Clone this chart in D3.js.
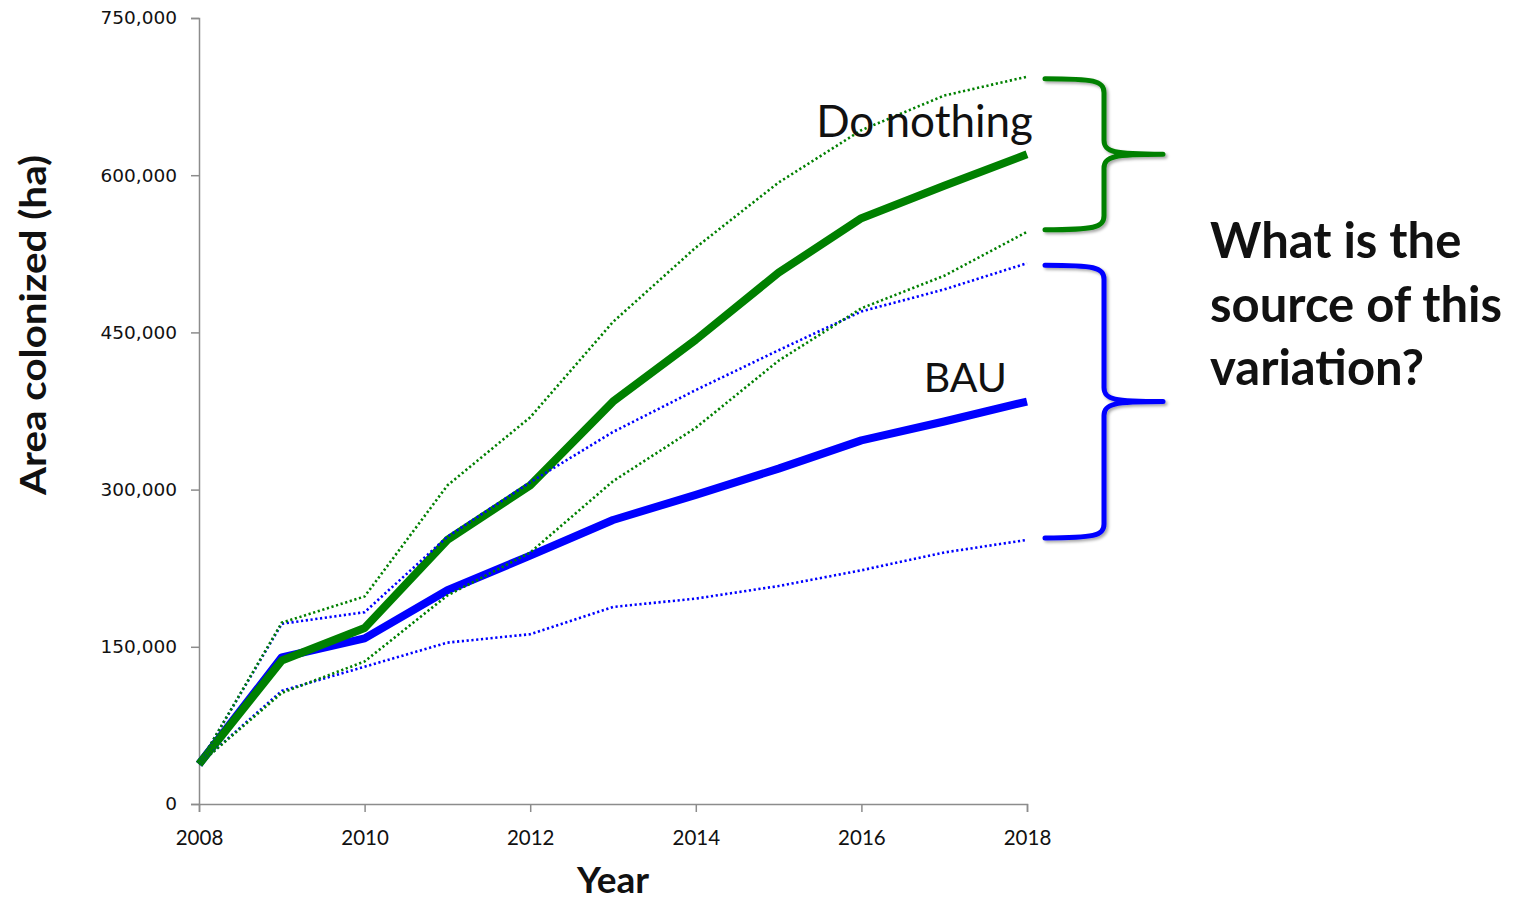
<!DOCTYPE html>
<html><head><meta charset="utf-8">
<script src="https://cdn.jsdelivr.net/npm/d3@7"></script>
<style>body{margin:0;background:#fff}</style></head>
<body><svg id="c" width="1523" height="900"></svg>
<script>
const years = [2008,2009,2010,2011,2012,2013,2014,2015,2016,2017,2018];
const doNothingMean = [38000,137000,168000,252000,304000,384000,443000,507000,559000,590000,620000];
const doNothingHigh = [38000,173000,198000,304000,369000,460000,531000,593000,643000,676000,694000];
const doNothingLow  = [38000,106000,136000,199000,240000,308000,359000,423000,473000,504000,546000];
const bauMean = [38000,140000,158000,204000,237000,271000,295000,320000,347000,365000,384000];
const bauHigh = [38000,172000,183000,255000,307000,355000,395000,433000,470000,491000,516000];
const bauLow  = [38000,108000,131000,154000,162000,188000,196000,208000,223000,240000,252000];
const yTicks = [0,150000,300000,450000,600000,750000];
const xTicks = [2008,2010,2012,2014,2016,2018];
const questionLines = ["What is the","source of this","variation?"];

const svg = d3.select("#c");
const x = d3.scaleLinear().domain([2008,2018]).range([199,1027]);
const y = d3.scaleLinear().domain([0,750000]).range([804,18]);
const axisColor = "#8c8c8c";

const defs = svg.append("defs");
const f = defs.append("filter").attr("id","sh").attr("x","-20%").attr("y","-20%").attr("width","140%").attr("height","140%");
f.append("feDropShadow").attr("dx",2).attr("dy",2).attr("stdDeviation",1.5).attr("flood-color","#000").attr("flood-opacity",0.35);

// axes
const ya = svg.append("g").attr("transform","translate(199,0)")
  .call(d3.axisLeft(y).tickValues(yTicks).tickSize(8).tickPadding(14).tickFormat(d3.format(",")));
ya.select(".domain").attr("stroke",axisColor).attr("stroke-width",1.5);
ya.selectAll(".tick line").attr("stroke",axisColor).attr("stroke-width",1.5);
ya.selectAll(".tick text").attr("fill","#111").attr("font-family","DejaVu Sans, Verdana").attr("font-size",18.5);

const xa = svg.append("g").attr("transform","translate(0,804)")
  .call(d3.axisBottom(x).tickValues(xTicks).tickSize(8).tickPadding(18).tickFormat(d3.format("d")));
xa.select(".domain").attr("stroke",axisColor).attr("stroke-width",1.5);
xa.selectAll(".tick line").attr("stroke",axisColor).attr("stroke-width",1.5);
xa.selectAll(".tick text").attr("fill","#111").attr("font-family","Lato, Open Sans").attr("font-size",20.5);

// lines
const line = vals => d3.line().x((d,i)=>x(years[i])).y(d=>y(d))(vals);
const thick = [[bauMean,"#0000ff"],[doNothingMean,"#008000"]];
const dotted = [[bauHigh,"#0000ff"],[bauLow,"#0000ff"],[doNothingHigh,"#008000"],[doNothingLow,"#008000"]];
svg.selectAll(".thick").data(thick).join("path").attr("class","thick")
  .attr("d",d=>line(d[0])).attr("fill","none").attr("stroke",d=>d[1]).attr("stroke-width",8)
  .attr("stroke-linejoin","round");
svg.selectAll(".dot").data(dotted).join("path").attr("class","dot")
  .attr("d",d=>line(d[0])).attr("fill","none").attr("stroke",d=>d[1]).attr("stroke-width",2.6)
  .attr("stroke-dasharray","2.2,2.6");

// labels
svg.append("text").attr("x",1033).attr("y",137).attr("text-anchor","end")
  .attr("font-family","Lato, Open Sans").attr("font-size",44).attr("fill","#111").text("Do nothing");
svg.append("text").attr("x",1007).attr("y",392).attr("text-anchor","end")
  .attr("font-family","Lato, Open Sans").attr("font-size",41).attr("fill","#111").text("BAU");

svg.selectAll(".q").data(questionLines).join("text").attr("class","q")
  .attr("x",1210).attr("y",(d,i)=>258+i*63.5)
  .attr("font-family","Lato, Open Sans").attr("font-weight","bold").attr("font-size",49).attr("fill","#111").text(d=>d);

svg.append("text").attr("transform","translate(46,325) rotate(-90)").attr("text-anchor","middle")
  .attr("font-family","Lato, Open Sans").attr("font-weight","bold").attr("font-size",37)
  .attr("textLength",340).attr("lengthAdjust","spacingAndGlyphs").attr("fill","#111")
  .text("Area colonized (ha)");
svg.append("text").attr("x",613).attr("y",893).attr("text-anchor","middle")
  .attr("font-family","Lato, Open Sans").attr("font-weight","bold").attr("font-size",37).attr("fill","#111")
  .text("Year");

// braces
function brace(top, tip, bottom){
  const x0 = 1045, xv = 1104, xt = 1163;
  return `M${x0},${top} C${xv-10},${top} ${xv},${top+2} ${xv},${top+14}`+
    ` L${xv},${tip-14} C${xv},${tip-2} ${xv+10},${tip} ${xt},${tip}`+
    ` M${xt},${tip} C${xv+10},${tip} ${xv},${tip+2} ${xv},${tip+14}`+
    ` L${xv},${bottom-14} C${xv},${bottom-2} ${xv-10},${bottom} ${x0},${bottom}`;
}
const last = years.length-1;
const braces = [
  [doNothingHigh[last], doNothingMean[last], doNothingLow[last], "#008000"],
  [bauHigh[last], bauMean[last], bauLow[last], "#0000ff"]
];
svg.selectAll(".brace").data(braces).join("path").attr("class","brace")
  .attr("d",d=>brace(y(d[0])+2, y(d[1]), y(d[2])-2))
  .attr("fill","none").attr("stroke",d=>d[3]).attr("stroke-width",5).attr("stroke-linecap","round")
  .attr("filter","url(#sh)");
</script></body></html>
